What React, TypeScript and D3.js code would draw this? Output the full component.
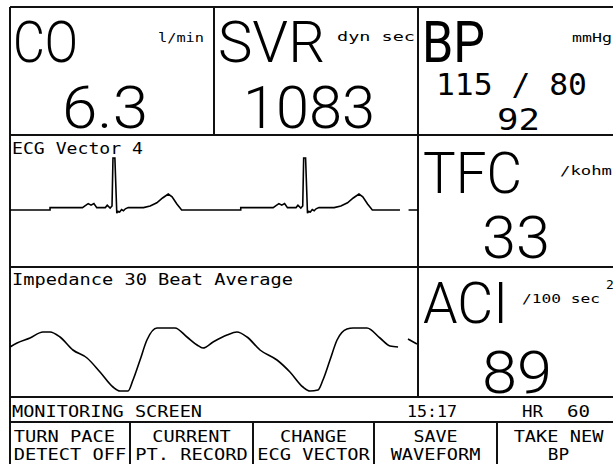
import * as d3 from 'd3';

// ECG vector 4, two beats at 60 bpm: [ms, mV]; NaN marks the sweep gap
const ecgTrace: [number, number][] = [
  [0, 0], [210, 0], [210, 0.06], [380, 0.06], [395, 0.11], [410, 0.16], [425, 0.12], [440, 0.16], [455, 0.06],
  [500, 0.06], [510, 0.12], [525, 0.05], [535, 0.1], [540, 1.3], [550, 1.3], [560, -0.08], [565, -0.03],
  [575, -0.05], [585, 0.01], [595, -0.02], [605, 0.03], [620, 0.06], [700, 0.06], [735, 0.1], [770, 0.18],
  [800, 0.3], [830, 0.4], [850, 0.33], [875, 0.15], [900, 0],
  [1210, 0], [1210, 0.06], [1380, 0.06], [1395, 0.11], [1410, 0.16], [1425, 0.12], [1440, 0.16], [1455, 0.06],
  [1500, 0.06], [1510, 0.12], [1525, 0.05], [1535, 0.1], [1540, 1.3], [1550, 1.3], [1560, -0.08], [1565, -0.03],
  [1575, -0.05], [1585, 0.01], [1595, -0.02], [1605, 0.03], [1620, 0.06], [1700, 0.06], [1735, 0.1], [1770, 0.18],
  [1800, 0.3], [1830, 0.4], [1850, 0.33], [1875, 0.15], [1900, 0],
  [2045, 0], [2070, NaN], [2090, 0], [2150, 0],
];

// impedance 30 beat average: [ms, ohm/s]
const impedanceTrace: [number, number][] = [
  [0, 1.3], [37, 1.7], [105, 2.2], [173, 2.8], [210, 2.8], [262, 2.3], [330, 1.0], [404, 0.2], [472, -1.2],
  [540, -2.7], [577, -3.1], [619, -3.1], [645, -2.0], [682, 0], [718, 2.0], [771, 3.2], [802, 3.2], [865, 3.2],
  [928, 2.3], [981, 1.5], [1012, 1.2], [1065, 1.8], [1138, 2.5], [1190, 2.8], [1243, 2.3], [1311, 1.0],
  [1400, 0], [1468, -1.2], [1536, -2.7], [1573, -3.1], [1615, -3.0], [1641, -2.0], [1678, 0], [1715, 2.0],
  [1767, 3.1], [1799, 3.2], [1872, 3.2], [1940, 2.2], [1993, 1.4], [2035, 1.3],
  [2060, NaN], [2087, 2.1], [2134, 1.6],
];

const panelNames = ['CO', 'SVR', 'BP', 'TFC', 'ACI'];
const panelUnits = ['l/min', 'dyn sec', 'mmHg', '/kohm', '/100 sec'];
const panelValues = ['6.3', '1083', '115 / 80', '33', '89'];
const bpMean = '92';
const traceTitles = ['ECG Vector 4', 'Impedance 30 Beat Average'];
const statusTitle = 'MONITORING SCREEN';
const clockTime = '15:17';
const heartRate = 60;
const buttonLabels = [
  ['TURN PACE\u00a0', 'DETECT OFF'],
  ['CURRENT', 'PT. RECORD'],
  ['CHANGE', 'ECG VECTOR'],
  ['SAVE', 'WAVEFORM'],
  ['TAKE NEW', 'BP'],
];

const W = 613;
const H = 464;
const SANS = 'Roboto, "Liberation Sans", Arial, sans-serif';
const MONO = '"DejaVu Sans Mono", monospace';

// screen grid
const frame = { left: 10, top: 7, right: 630, bottom: 475 };
const colX = [10, 213.5, 418];
const rowY = [7, 135, 267, 397, 422];
const buttonX = [10, 130, 253, 374, 497, 620];

// where each reading sits: name [x, baseline, width], unit [x, baseline, width], value [x, baseline, width]
const panelPos = [
  { name: [13, 62, 65], unit: [158, 42, 46], value: [62, 128, 86], weight: 300 },
  { name: [218, 62, 107], unit: [337, 41, 78], value: [243, 128, 132], weight: 300 },
  { name: [422, 62, 63], unit: [572, 42, 40], value: [436, 95, 151], weight: 400 },
  { name: [423, 193, 99], unit: [560, 175, 52], value: [482, 258, 68], weight: 300 },
  { name: [423, 323, 85], unit: [522, 303, 78], value: [482, 393, 70], weight: 300 },
];

const x = d3.scaleLinear().domain([0, 2150]).range([10, 420]);
const yEcg = d3.scaleLinear().domain([0, 1.3]).range([210, 158]);
const yImp = d3.scaleLinear().domain([-3.1, 3.2]).range([391, 328]);

const ecgLine = d3
  .line<[number, number]>()
  .defined(d => !isNaN(d[1]))
  .x(d => x(d[0]))
  .y(d => yEcg(d[1]));

const impLine = d3
  .line<[number, number]>()
  .defined(d => !isNaN(d[1]))
  .x(d => x(d[0]))
  .y(d => yImp(d[1]))
  .curve(d3.curveMonotoneX);

function Pix({ x, y, children, len, anchor = 'start', size = 16 }: any) {
  return (
    <text
      x={x}
      y={y}
      fontFamily={MONO}
      fontSize={size}
      textAnchor={anchor}
      textLength={len}
      lengthAdjust="spacingAndGlyphs"
      style={{ whiteSpace: 'pre' }}
    >
      {children}
    </text>
  );
}

export default function App() {
  const lines: [number, number, number, number][] = [
    [frame.left, frame.top, frame.right, frame.top],
    [frame.left, frame.top, frame.left, frame.bottom],
    [colX[1], rowY[0], colX[1], rowY[1]],
    [colX[2], rowY[0], colX[2], rowY[3]],
    ...rowY.slice(1).map(y => [frame.left, y, frame.right, y] as [number, number, number, number]),
    ...buttonX.slice(1, -1).map(bx => [bx, rowY[4], bx, frame.bottom] as [number, number, number, number]),
  ];

  return (
    <svg
      width={W}
      height={H}
      viewBox={`0 0 ${W} ${H}`}
      style={{ position: 'fixed', left: 0, top: 0, background: '#fff' }}
    >
      <defs>
        <clipPath id="ecg-clip">
          <rect x={frame.left} y={rowY[1]} width={colX[2] - frame.left} height={rowY[2] - rowY[1]} />
        </clipPath>
        <clipPath id="imp-clip">
          <rect x={frame.left} y={rowY[2]} width={colX[2] - frame.left} height={rowY[3] - rowY[2]} />
        </clipPath>
      </defs>
      <rect width={W} height={H} fill="#fff" />

      <g stroke="#111" strokeWidth={2} shapeRendering="crispEdges">
        {lines.map((l, i) => (
          <line key={i} x1={l[0]} y1={l[1]} x2={l[2]} y2={l[3]} />
        ))}
      </g>

      {/* numeric readings */}
      <g fill="#000">
        {panelNames.map((name, i) => {
          const p = panelPos[i];
          const isBp = name === 'BP';
          return (
            <g key={name}>
              <text
                x={p.name[0]}
                y={p.name[1]}
                fontFamily={SANS}
                fontSize={57}
                fontWeight={p.weight}
                textLength={p.name[2]}
                lengthAdjust="spacingAndGlyphs"
              >
                {name}
              </text>
              <text
                x={p.unit[0]}
                y={p.unit[1]}
                fontFamily={MONO}
                fontSize={13}
                textLength={p.unit[2]}
                lengthAdjust="spacingAndGlyphs"
                style={{ whiteSpace: 'pre' }}
              >
                {panelUnits[i]}
              </text>
              <text
                x={p.value[0]}
                y={p.value[1]}
                fontFamily={isBp ? MONO : SANS}
                fontSize={isBp ? 31 : 60}
                fontWeight={isBp ? 'normal' : 300}
                textLength={p.value[2]}
                lengthAdjust="spacingAndGlyphs"
                style={{ whiteSpace: 'pre' }}
              >
                {panelValues[i]}
              </text>
            </g>
          );
        })}
        <text x={497} y={130} fontFamily={MONO} fontSize={31} textLength={43} lengthAdjust="spacingAndGlyphs">
          {bpMean}
        </text>
        <text x={606} y={289} fontFamily={MONO} fontSize={13}>
          2
        </text>
      </g>

      {/* waveforms */}
      <Pix x={12} y={154} len={131}>{traceTitles[0]}</Pix>
      <Pix x={12} y={285} len={281}>{traceTitles[1]}</Pix>
      <path d={ecgLine(ecgTrace) ?? ''} fill="none" stroke="#000" strokeWidth={1.6} clipPath="url(#ecg-clip)" />
      <path d={impLine(impedanceTrace) ?? ''} fill="none" stroke="#000" strokeWidth={1.6} clipPath="url(#imp-clip)" />

      {/* status bar */}
      <Pix x={12} y={417} len={190}>{statusTitle}</Pix>
      <Pix x={407} y={417} len={50}>{clockTime}</Pix>
      <Pix x={522} y={417} len={21}>HR</Pix>
      <Pix x={567} y={417} len={23}>{String(heartRate)}</Pix>

      {/* soft keys */}
      {buttonLabels.map((lbl, i) => {
        const cx = (buttonX[i] + buttonX[i + 1]) / 2;
        return (
          <g key={i}>
            {lbl.map((s, j) => (
              <Pix key={j} x={cx} y={442 + j * 18} anchor="middle" len={s.length * 11.4 - 1.5}>
                {s}
              </Pix>
            ))}
          </g>
        );
      })}
    </svg>
  );
}
